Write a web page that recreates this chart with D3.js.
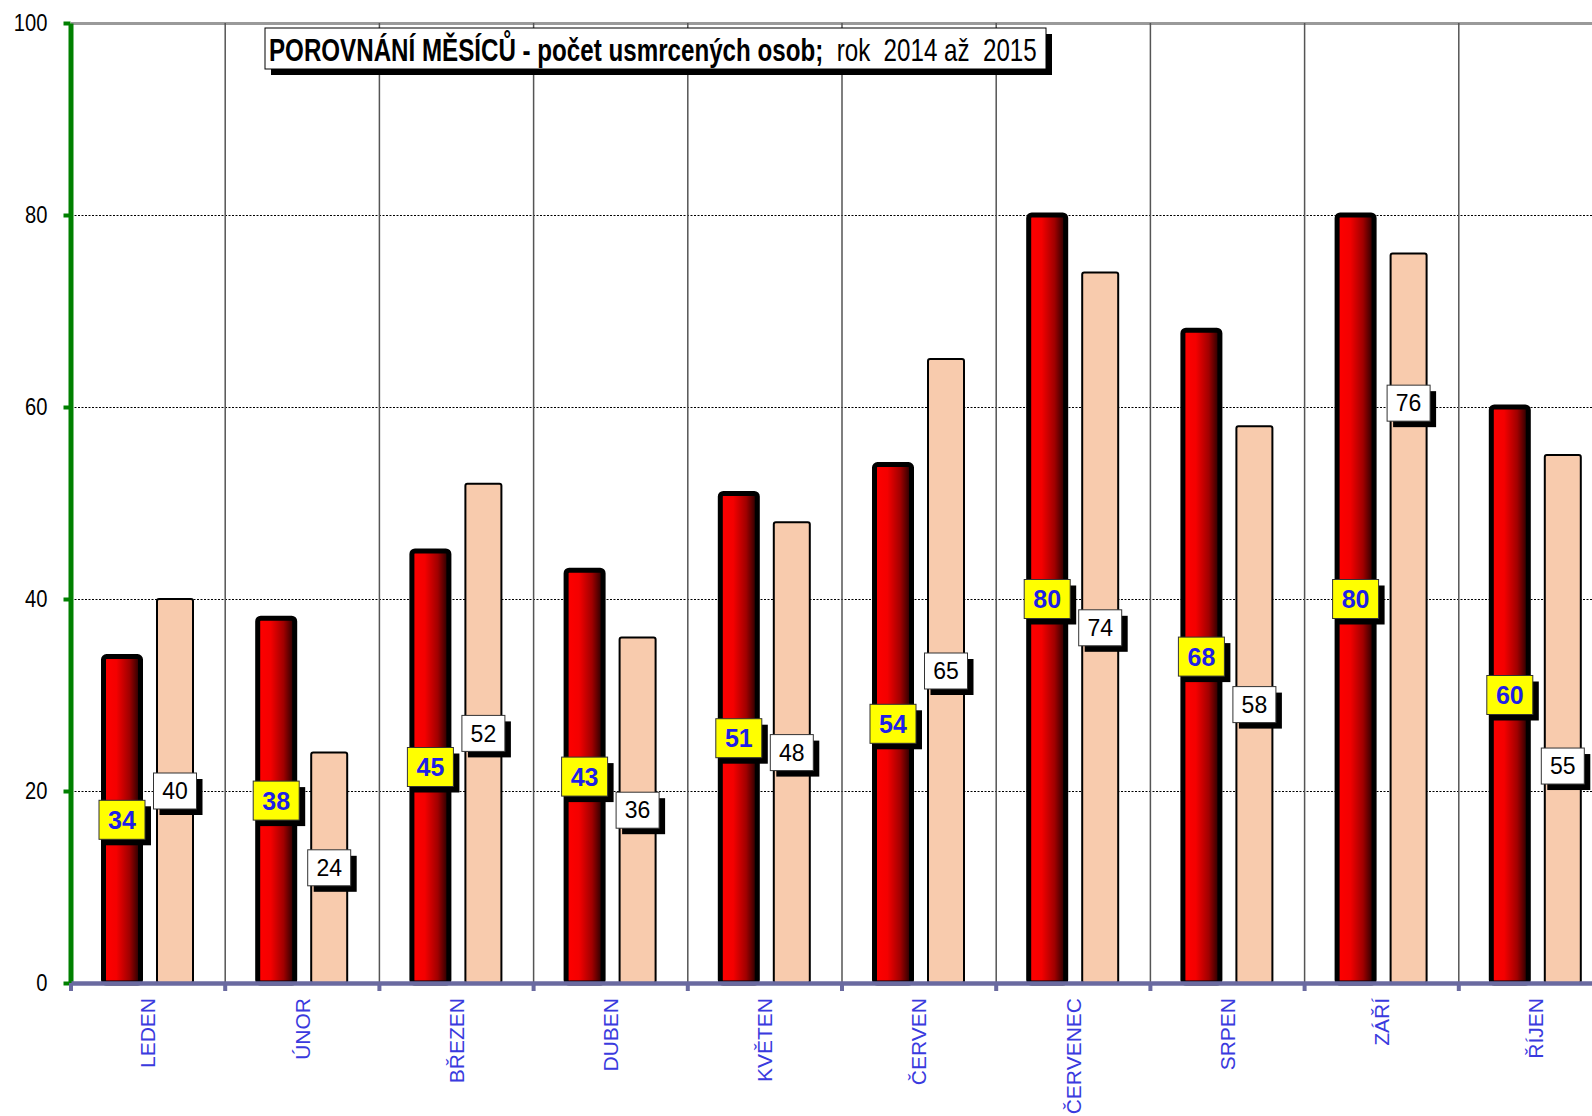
<!DOCTYPE html>
<html><head><meta charset="utf-8">
<script src="https://cdn.jsdelivr.net/npm/d3@7"></script>
<style>body{margin:0;background:#fff;overflow:hidden} svg{display:block}</style>
</head><body><svg id="chart" width="1592" height="1116"></svg>
<script>
const months = ["LEDEN","ÚNOR","BŘEZEN","DUBEN","KVĚTEN","ČERVEN","ČERVENEC","SRPEN","ZÁŘÍ","ŘÍJEN"];
const series = ["2014","2015"];
const values2014 = [34,38,45,43,51,54,80,68,80,60];
const values2015 = [40,24,52,36,48,65,74,58,76,55];
const yTicks = [0,20,40,60,80,100];
const titleBold = "POROVNÁNÍ MĚSÍCŮ - počet usmrcených osob;";
const titleNormal = "  rok  2014 až  2015";
// 2015 labels that were moved by hand in the original (value-axis position)
const labelOverride2015 = {8: 60.4, 9: 22.6};

const NARROW = "'Liberation Sans Narrow','Arial Narrow','Liberation Sans',Arial,sans-serif";
const SANS = "'Liberation Sans',Arial,sans-serif";

const svg = d3.select("#chart");
const y = d3.scaleLinear().domain([0,100]).range([983,23]);
const x0 = d3.scaleBand().domain(months).range([71,1613]).padding(0);
const x1 = d3.scaleBand().domain(series).range([24.5,130.5]);

const defs = svg.append("defs");
const g = defs.append("linearGradient").attr("id","redGrad").attr("x1","0").attr("x2","1").attr("y1","0").attr("y2","0");
[[0,"#ff0000"],[0.35,"#f40000"],[0.7,"#a00000"],[1,"#1a0000"]].forEach(([o,c])=>g.append("stop").attr("offset",o).attr("stop-color",c));

// horizontal gridlines
svg.append("g").selectAll("line").data(yTicks.filter(d=>d>0&&d<100)).join("line")
  .attr("x1",71).attr("x2",1613).attr("y1",d=>y(d)+0.5).attr("y2",d=>y(d)+0.5)
  .attr("stroke","#000").attr("stroke-width",1).attr("stroke-dasharray","2,1.5");
svg.append("line").attr("x1",71).attr("x2",1613).attr("y1",y(100)+0.5).attr("y2",y(100)+0.5)
  .attr("stroke","#9a9a9a").attr("stroke-width",3);

// vertical category separators
svg.append("g").selectAll("line").data(months.slice(1)).join("line")
  .attr("x1",d=>x0(d)).attr("x2",d=>x0(d)).attr("y1",y(100)).attr("y2",y(0))
  .attr("stroke","#555").attr("stroke-width",1.5);

const bw = 37;
// 2014 bars
svg.append("g").selectAll("rect").data(values2014).join("rect")
  .attr("x",(d,i)=>x0(months[i])+x1("2014")+(x1.bandwidth()-bw)/2)
  .attr("y",d=>y(d)).attr("width",bw).attr("height",d=>y(0)-y(d))
  .attr("rx",3).attr("fill","url(#redGrad)").attr("stroke","#000").attr("stroke-width",5);
// 2015 bars
svg.append("g").selectAll("rect").data(values2015).join("rect")
  .attr("x",(d,i)=>x0(months[i])+x1("2015")+(x1.bandwidth()-36)/2)
  .attr("y",d=>y(d)).attr("width",36).attr("height",d=>y(0)-y(d))
  .attr("rx",2).attr("fill","#F8CBAD").attr("stroke","#000").attr("stroke-width",2);

// title
const tx=265, ty=28, tw=781, th=41;
svg.append("rect").attr("x",tx+6).attr("y",ty+6).attr("width",tw).attr("height",th).attr("fill","#000");
svg.append("rect").attr("x",tx).attr("y",ty).attr("width",tw).attr("height",th).attr("fill","#fff").attr("stroke","#000").attr("stroke-width",1);
const tg = svg.append("g");
const tt = tg.append("text").attr("x",0).attr("y",0).attr("font-family",NARROW).attr("font-size",31)
  .attr("fill","#000").style("white-space","pre");
tt.append("tspan").attr("font-weight","bold").text(titleBold);
tt.append("tspan").text(titleNormal);
const natural = tt.node().getComputedTextLength();
tg.attr("transform",`translate(269,61) scale(${768/natural},1)`);

// y axis
const yAxis = svg.append("g").attr("transform","translate(70.5,0)")
  .call(d3.axisLeft(y).tickValues(yTicks).tickSize(7).tickSizeOuter(0).tickPadding(16));
yAxis.select(".domain").attr("stroke","#008000").attr("stroke-width",5);
yAxis.selectAll(".tick line").attr("stroke","#008000").attr("stroke-width",4);
yAxis.selectAll(".tick text").attr("font-family",NARROW).attr("font-size",24).attr("fill","#000")
  .attr("x",0).attr("transform","translate(-23,0) scale(0.84,1)");

// x axis
const xAxis = svg.append("g").attr("transform",`translate(0,${y(0)})`)
  .call(d3.axisBottom(x0).tickSize(0).tickSizeOuter(0));
xAxis.select(".domain").attr("stroke","#6a6aa0").attr("stroke-width",4.5);
xAxis.selectAll(".tick text").attr("transform","rotate(-90)").attr("x",-15).attr("y",0).attr("dy","0.35em")
  .attr("text-anchor","end").attr("font-family",SANS).attr("font-size",21).attr("fill","#3a3ade");
svg.append("g").selectAll("rect").data(months).join("rect")
  .attr("x",d=>x0(d)-2).attr("y",y(0)).attr("width",4).attr("height",8).attr("fill","#6a6aa0");

// data labels
function labels(vals, key, opts){
  const grp = svg.append("g");
  vals.forEach((v,i)=>{
    const cx = x0(months[i])+x1(key)+x1.bandwidth()/2;
    const pos = (opts.override && opts.override[i]!==undefined) ? opts.override[i] : v/2;
    const cy = y(pos);
    grp.append("rect").attr("x",cx-opts.w/2+6).attr("y",cy-opts.h/2+6).attr("width",opts.w).attr("height",opts.h).attr("fill","#000");
    grp.append("rect").attr("x",cx-opts.w/2).attr("y",cy-opts.h/2).attr("width",opts.w).attr("height",opts.h)
      .attr("fill",opts.fill).attr("stroke","#333").attr("stroke-width",1);
    grp.append("text").attr("x",cx).attr("y",cy).attr("dy","0.36em").attr("text-anchor","middle")
      .attr("font-family",SANS).attr("font-size",opts.fs).attr("font-weight",opts.fw).attr("fill",opts.color).text(v);
  });
}
labels(values2014,"2014",{w:46,h:39,fill:"#ffff00",color:"#1f1fe6",fs:25,fw:"bold"});
labels(values2015,"2015",{w:43,h:36,fill:"#fff",color:"#000",fs:23,fw:"normal",override:labelOverride2015});
</script></body></html>
